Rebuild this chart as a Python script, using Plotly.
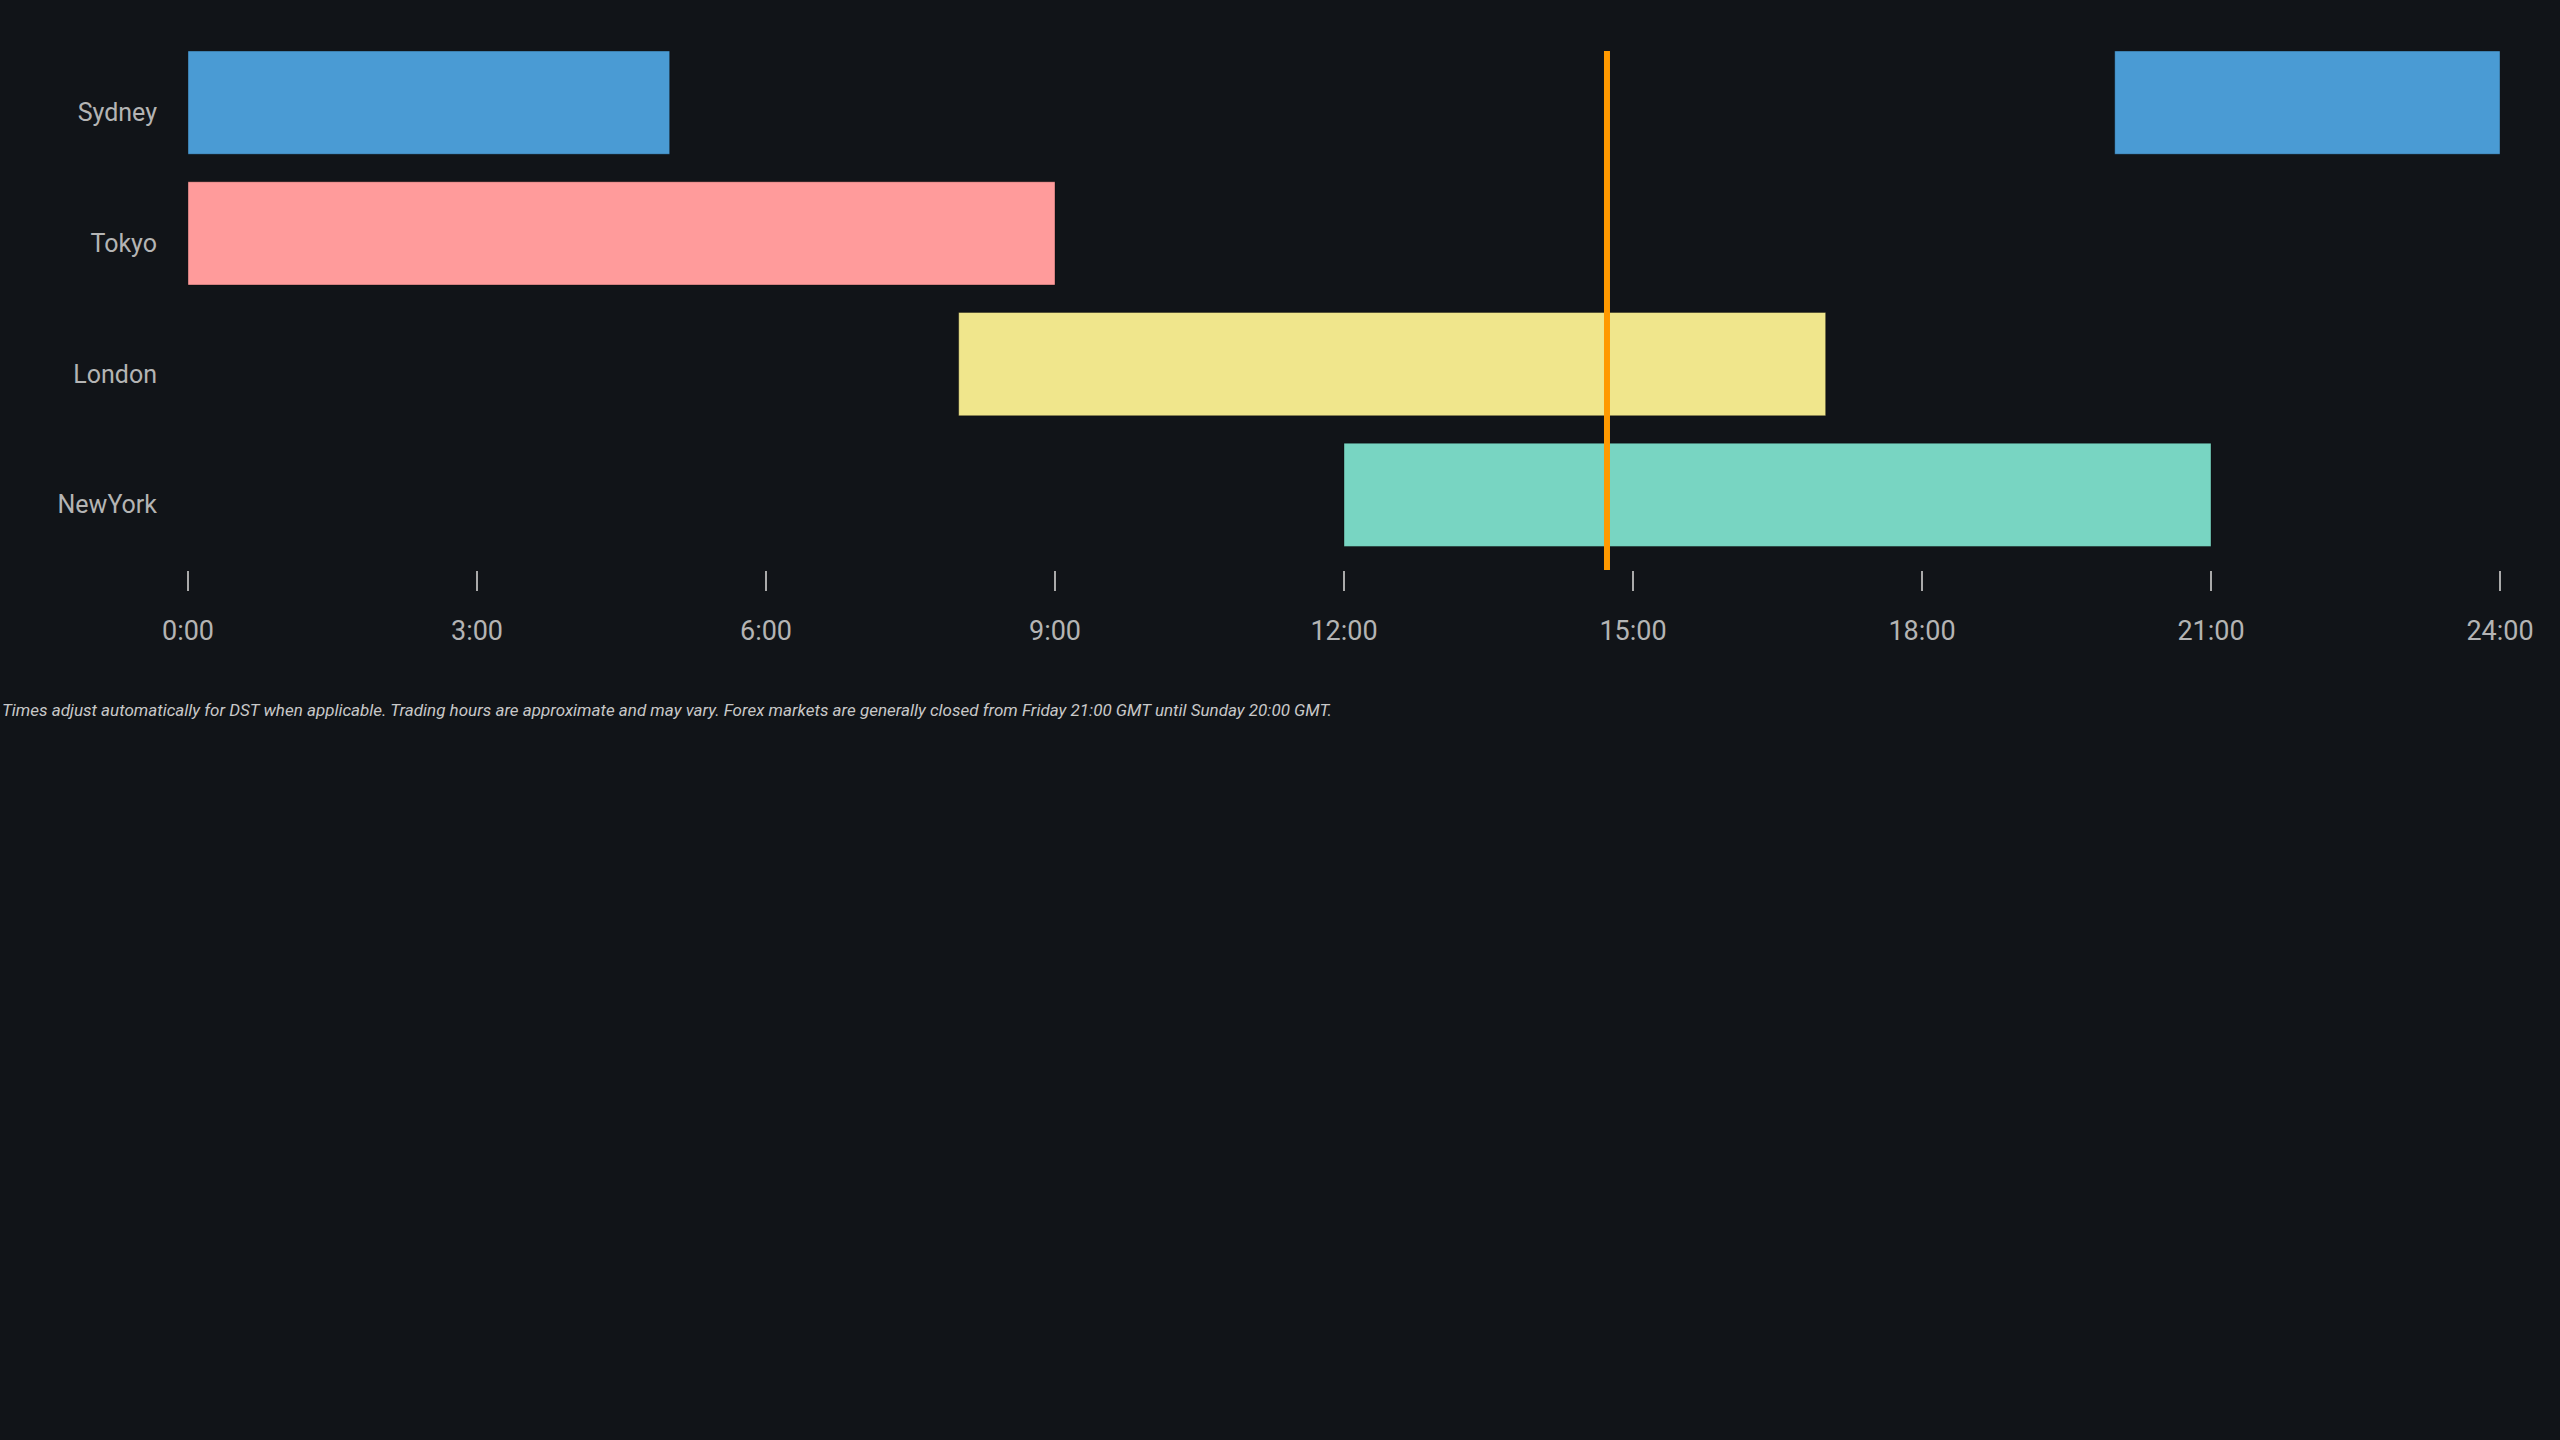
import plotly.graph_objects as go

# Sessions (GMT hours)
sessions = ["Sydney", "Tokyo", "London", "NewYork"]
seg_session = ["Sydney", "Sydney", "Tokyo", "London", "NewYork"]
seg_start = [0, 20, 0, 8, 12]
seg_end = [5, 24, 9, 17, 21]
session_colors = {
    "Sydney": "#4a9bd4",
    "Tokyo": "#ff9b9b",
    "London": "#f0e68c",
    "NewYork": "#78d5c2",
}
hour_ticks = [0, 3, 6, 9, 12, 15, 18, 21, 24]
hour_labels = [f"{h}:00" for h in hour_ticks]
now_hour = 14.73

note = ("Times adjust automatically for DST when applicable. Trading hours are approximate and may vary. "
        "Forex markets are generally closed from Friday 21:00 GMT until Sunday 20:00 GMT.")

bg = "#111418"
txt = "#b4b4b4"

fig = go.Figure()
for s in sessions:
    idx = [i for i, n in enumerate(seg_session) if n == s]
    fig.add_trace(go.Bar(
        y=[seg_session[i] for i in idx],
        x=[seg_end[i] - seg_start[i] for i in idx],
        base=[seg_start[i] for i in idx],
        orientation="h",
        width=0.79,
        offset=-0.47,
        marker=dict(color=session_colors[s], line=dict(color="rgba(0,0,0,0.35)", width=1)),
        name=s,
        showlegend=False,
    ))

fig.add_vline(x=now_hour, line=dict(color="#ff9900", width=6), layer="above")

fig.add_annotation(
    text=f"<i>{note}</i>", xref="paper", yref="paper",
    x=-0.0813, y=-0.27, xanchor="left", yanchor="middle",
    showarrow=False, font=dict(size=17, color="#c8c8c8", family="Roboto"),
)

fig.update_layout(
    width=2560, height=1440,
    margin=dict(l=188, r=60, t=51, b=870),
    paper_bgcolor=bg, plot_bgcolor=bg,
    barmode="overlay",
    font=dict(family="Roboto", size=27, color=txt),
)
fig.update_xaxes(
    range=[0, 24], tickvals=hour_ticks, ticktext=hour_labels,
    showgrid=False, zeroline=False, showline=False,
    ticks="outside", ticklen=20, tickwidth=2, tickcolor="#aaaaaa",
    ticklabelstandoff=17,
)
fig.update_yaxes(
    categoryorder="array", categoryarray=sessions, range=[3.5, -0.47],
    showgrid=False, zeroline=False, showline=False, ticks="",
    tickfont=dict(size=25),
    ticklabelstandoff=30,
)

fig.write_html(
    "out.html",
    config={"displayModeBar": False},
    post_script="document.body.style.margin='0';document.body.style.background='#111418';",
)
